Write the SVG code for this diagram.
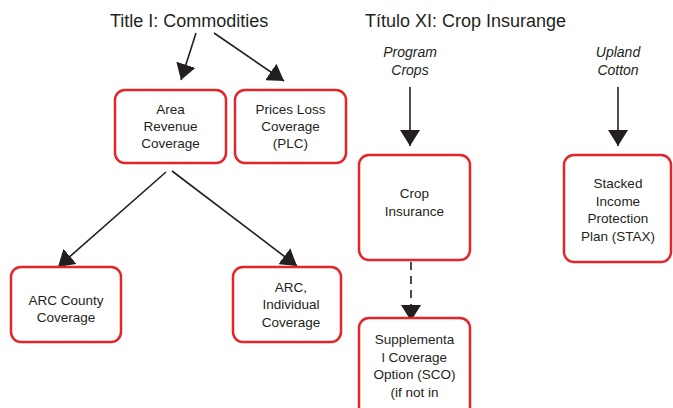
<svg xmlns="http://www.w3.org/2000/svg" width="673" height="408" viewBox="0 0 673 408">
<defs>
<style>
.box{fill:#fff;stroke:#e2262b;stroke-width:2.5}
.t{font-family:"Liberation Sans",Arial,sans-serif;font-size:13.5px;fill:#231f20;text-anchor:middle}
.h{font-family:"Liberation Sans",Arial,sans-serif;font-size:18px;fill:#231f20}
.i{font-family:"Liberation Sans",Arial,sans-serif;font-size:14px;font-style:italic;fill:#231f20;text-anchor:middle}
.c{stroke:#231f20;stroke-width:1.6;fill:none;marker-end:url(#ah)}
</style>
<marker id="ah" markerUnits="userSpaceOnUse" markerWidth="18" markerHeight="20" refX="16" refY="10" orient="auto">
<path d="M0,0 L16,10 L0,20 Z" fill="#231f20"/>
</marker>
</defs>
<rect width="673" height="408" fill="#fff"/>
<text class="h" x="110" y="27">Title I: Commodities</text>
<text class="h" x="365" y="27">Título XI: Crop Insurange</text>
<text class="i" x="410" y="57">Program</text>
<text class="i" x="410" y="75">Crops</text>
<text class="i" x="618" y="57">Upland</text>
<text class="i" x="618" y="75">Cotton</text>
<g id="connectors">
<line class="c" x1="196" y1="33" x2="181" y2="80"/>
<line class="c" x1="214" y1="33" x2="284" y2="81"/>
<line class="c" x1="410" y1="87" x2="410" y2="146"/>
<line class="c" x1="618" y1="87" x2="618" y2="146"/>
<line class="c" x1="166" y1="172" x2="58" y2="267"/>
<line class="c" x1="172" y1="171" x2="297" y2="266"/>
<line class="c" x1="411" y1="262" x2="411" y2="321" stroke-dasharray="8,6"/>
</g>
<g id="arc">
<rect class="box" x="115" y="90" width="111" height="73" rx="10"/>
<text class="t" x="170.5" y="114">Area</text>
<text class="t" x="170.5" y="131">Revenue</text>
<text class="t" x="170.5" y="148">Coverage</text>
</g>
<g id="plc">
<rect class="box" x="235" y="90" width="111" height="73" rx="10"/>
<text class="t" x="290.5" y="114">Prices Loss</text>
<text class="t" x="290.5" y="131">Coverage</text>
<text class="t" x="290.5" y="148">(PLC)</text>
</g>
<g id="crop">
<rect class="box" x="359" y="155" width="111" height="105" rx="10"/>
<text class="t" x="414.5" y="198">Crop</text>
<text class="t" x="414.5" y="216">Insurance</text>
</g>
<g id="stax">
<rect class="box" x="564" y="155" width="107" height="107" rx="10"/>
<text class="t" x="618" y="188">Stacked</text>
<text class="t" x="618" y="206">Income</text>
<text class="t" x="618" y="223">Protection</text>
<text class="t" x="618" y="241">Plan (STAX)</text>
</g>
<g id="arccounty">
<rect class="box" x="11" y="267" width="110" height="75" rx="10"/>
<text class="t" x="66" y="305">ARC County</text>
<text class="t" x="66" y="322">Coverage</text>
</g>
<g id="arcind">
<rect class="box" x="233" y="267" width="108" height="75" rx="10"/>
<text class="t" x="291" y="292">ARC,</text>
<text class="t" x="291" y="309">Individual</text>
<text class="t" x="291" y="327">Coverage</text>
</g>
<g id="sco">
<rect class="box" x="359" y="318" width="111" height="100" rx="10"/>
<text class="t" x="414.5" y="344">Supplementa</text>
<text class="t" x="414.5" y="362">l Coverage</text>
<text class="t" x="414.5" y="379">Option (SCO)</text>
<text class="t" x="414.5" y="397">(if not in</text>
</g>
</svg>
